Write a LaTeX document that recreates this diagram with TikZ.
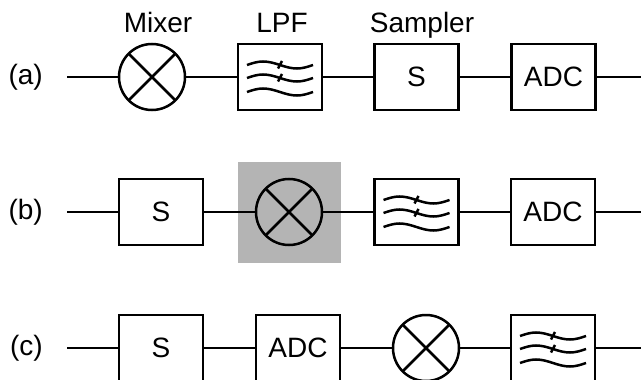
\documentclass[tikz,border=0pt]{standalone}
\usepackage{fontspec}
\setmainfont{Liberation Sans}
\definecolor{hilite}{RGB}{180,180,180}

% the three waves of the low-pass filter symbol
\newcommand{\lpfwaves}{%
  \begin{scope}[shift={(path picture bounding box.center)}, line width=2.5pt]
    \foreach \dy in {12,-1,-15}
      \draw (-33,\dy) sin (-17,\dy+3.5) cos (0,\dy) sin (17,\dy-3.5) cos (33,\dy);
    \foreach \dy in {12,-1}
      \draw (-2,\dy-3.5) -- (2,\dy+4);
  \end{scope}}

\tikzset{
  blk/.style={draw, rectangle, minimum width=84pt, minimum height=66pt,
    inner sep=0pt, font=\fontsize{28}{32}\selectfont},
  lpf/.style={blk, path picture={\lpfwaves}},
  mix/.style={draw, circle, minimum size=66pt, inner sep=0pt,
    path picture={
      \draw (path picture bounding box.north west) -- (path picture bounding box.south east);
      \draw (path picture bounding box.south west) -- (path picture bounding box.north east);}},
  rowlbl/.style={anchor=east, inner sep=0pt, font=\fontsize{28}{32}\selectfont},
  toplbl/.style={anchor=base, inner sep=0pt, font=\fontsize{28}{32}\selectfont}
}

\begin{document}
\begin{tikzpicture}[x=1pt, y=1pt, line width=2.5pt]
    \useasboundingbox (0,0) rectangle (641,-380);

    % grey patch behind the mixer of (b)
    \fill[hilite] (238,-162) rectangle (341,-263);

    % (a)
    \node[rowlbl] (la) at (44,-77) {(a)};
    \coordinate (a0) at (67,-77);
    \node[mix] (a1) at (152,-77) {};
    \node[lpf] (a2) at (280,-77) {};
    \node[blk] (a3) at (416.5,-77) {S};
    \node[blk] (a4) at (553.5,-77) {ADC};
    \coordinate (a5) at (641,-77);
    \draw (a0) -- (a1) -- (a2) -- (a3) -- (a4) -- (a5);

    \node[toplbl] (ta1) at (158,-32) {Mixer};
    \node[toplbl] (ta2) at (282,-32) {LPF};
    \node[toplbl] (ta3) at (422,-32) {Sampler};

    % (b)
    \node[rowlbl] (lb) at (44,-212) {(b)};
    \coordinate (b0) at (67,-212);
    \node[blk] (b1) at (161,-212) {S};
    \node[mix] (b2) at (289,-212) {};
    \node[lpf] (b3) at (416.5,-212) {};
    \node[blk] (b4) at (553,-212) {ADC};
    \coordinate (b5) at (641,-212);
    \draw (b0) -- (b1) -- (b2) -- (b3) -- (b4) -- (b5);

    % (c)
    \node[rowlbl] (lc) at (44,-348) {(c)};
    \coordinate (c0) at (67,-348);
    \node[blk] (c1) at (161,-348) {S};
    \node[blk] (c2) at (298,-348) {ADC};
    \node[mix] (c3) at (426,-348) {};
    \node[lpf] (c4) at (553,-348) {};
    \coordinate (c5) at (641,-348);
    \draw (c0) -- (c1) -- (c2) -- (c3) -- (c4) -- (c5);

\end{tikzpicture}
\end{document}
